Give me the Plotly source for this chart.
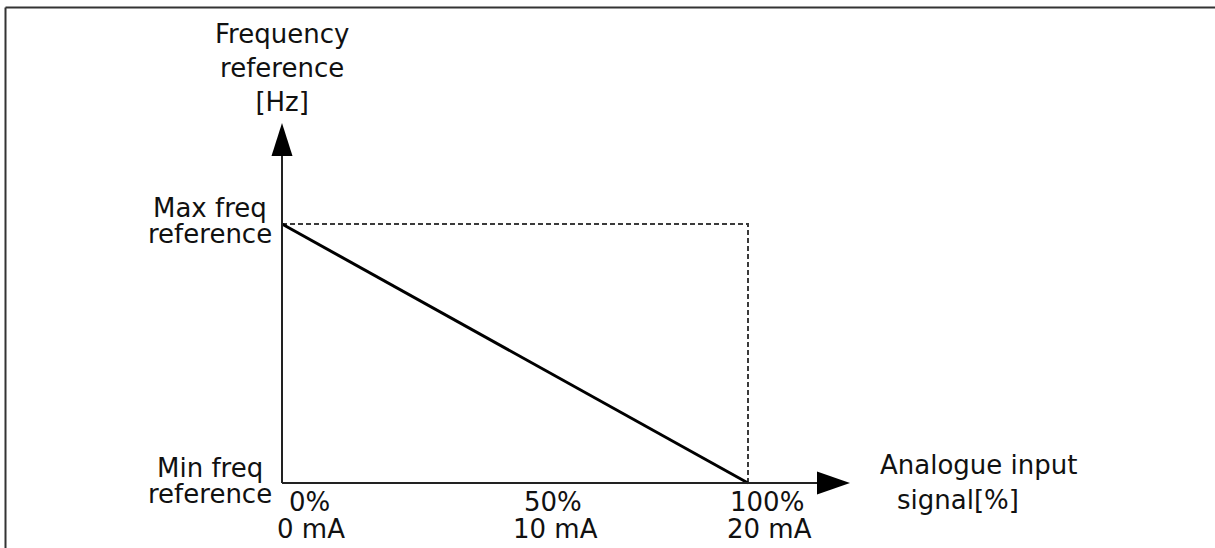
import plotly.graph_objects as go

# signal range (percent of analogue input) and the output it gives (percent of max freq)
signal_pct = [0, 100]
freq_pct = [100, 0]

tick_pos = [0, 50, 100]
tick_pct = ["0%", "50%", "100%"]
tick_ma = ["0 mA", "10 mA", "20 mA"]
tick_xshift = [27, 38, 19]

W, H = 1215, 548
# where 0%/100% and min/max land on the page
X0_PX, X100_PX = 282, 748
YMAX_PX, YMIN_PX = 224, 483
XTIP_PX, YTIP_PX = 850, 123
ARROW_LEN = 33

kx = 100 / (X100_PX - X0_PX)
ky = 100 / (YMIN_PX - YMAX_PX)
x_range = [-X0_PX * kx, (W - X0_PX) * kx]
y_range = [-(H - YMIN_PX) * ky, 100 + YMAX_PX * ky]

x_base = (XTIP_PX - ARROW_LEN - X0_PX) * kx
y_base = 100 + (YMAX_PX - YTIP_PX - ARROW_LEN) * ky
x_tip = (XTIP_PX - X0_PX) * kx
y_tip = 100 + (YMAX_PX - YTIP_PX) * ky

FONT = dict(family="DejaVu Sans, Verdana, sans-serif", size=26, color="#111111")

fig = go.Figure()

# dashed guide to max / 100%
fig.add_trace(go.Scatter(
    x=[signal_pct[0], signal_pct[1], signal_pct[1]],
    y=[freq_pct[0], freq_pct[0], freq_pct[1]],
    mode="lines",
    line=dict(color="#3a3a3a", width=2, dash="5px,3px"),
    hoverinfo="skip",
))
fig.add_trace(go.Scatter(
    x=signal_pct, y=freq_pct, mode="lines",
    line=dict(color="black", width=3),
))

shapes = [
    # axes
    dict(type="line", xref="x", yref="y", x0=0, y0=0, x1=x_base, y1=0,
         line=dict(color="#222222", width=2)),
    dict(type="line", xref="x", yref="y", x0=0, y0=0, x1=0, y1=y_base,
         line=dict(color="#222222", width=2)),
    # arrow heads
    dict(type="path", xref="x", yref="y", xsizemode="pixel", ysizemode="pixel",
         xanchor=0, yanchor=y_base, path="M -10.5 0 L 10.5 0 L 0 %d Z" % ARROW_LEN,
         fillcolor="black", line=dict(width=0)),
    dict(type="path", xref="x", yref="y", xsizemode="pixel", ysizemode="pixel",
         xanchor=x_base, yanchor=0, path="M 0 -11.5 L 0 11.5 L %d 0 Z" % ARROW_LEN,
         fillcolor="black", line=dict(width=0)),
    # frame
    dict(type="line", xref="paper", yref="paper", x0=5.5 / W, x1=5.5 / W, y0=0, y1=1 - 7.5 / H,
         line=dict(color="#333333", width=2)),
    dict(type="line", xref="paper", yref="paper", x0=5.5 / W, x1=1, y0=1 - 7.5 / H, y1=1 - 7.5 / H,
         line=dict(color="#333333", width=2)),
]


def label(text, x, y, dx, dy, anchor="center"):
    return dict(x=x, y=y, text=text, showarrow=False, xanchor=anchor,
                yanchor="middle", xshift=dx, yshift=dy)


annotations = [
    dict(x=0, y=y_tip, text="Frequency<br>reference<br>[Hz]", showarrow=False,
         xanchor="center", yanchor="bottom", yshift=4, align="center"),
    label("Max freq", 0, 100, -72, 16),
    label("reference", 0, 100, -72, -10),
    label("Min freq", 0, 0, -72, 15),
    label("reference", 0, 0, -72, -11),
    label("Analogue input", x_tip, 0, 28, 18, "left"),
    label("signal[%]", x_tip, 0, 45, -17, "left"),
]
for p, a, b, s in zip(tick_pos, tick_pct, tick_ma, tick_xshift):
    annotations.append(label(a, p, 0, s, -19))
    annotations.append(label(b, p, 0, s + 2, -46))

fig.update_layout(
    width=W, height=H,
    margin=dict(l=0, r=0, t=0, b=0),
    paper_bgcolor="white", plot_bgcolor="white",
    showlegend=False,
    font=FONT,
    shapes=shapes,
    annotations=annotations,
    xaxis=dict(range=x_range, visible=False, fixedrange=True),
    yaxis=dict(range=y_range, visible=False, fixedrange=True),
)

# page margin off so the figure sits at the window's corner
fig.write_html("out.html", config={"displayModeBar": False},
               post_script="document.body.style.margin='0';")
